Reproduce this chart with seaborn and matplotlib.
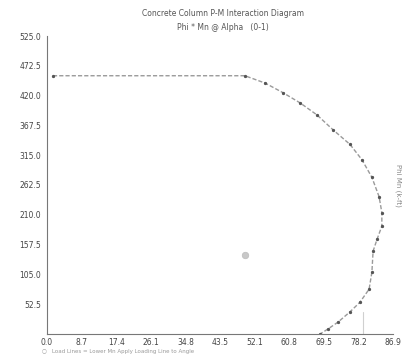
import matplotlib
matplotlib.use("Agg")
import matplotlib.pyplot as plt
import seaborn as sns
import pandas as pd

# Interaction curve (Phi Mn in k-ft, Phi Pn in kips)
moment = [1.5, 49.7, 54.8, 59.3, 63.6, 67.8, 71.8, 76.1, 79.1, 81.6, 83.4, 84.1,
          84.1, 82.9, 81.9, 81.6, 80.9, 78.6, 76.1, 73.1, 70.6, 68.6]
axial = [455, 455, 442, 425, 407, 386, 360, 334, 307, 276, 242, 214,
         190, 167, 146, 109, 79, 56, 39, 21, 9, 0]

# Load point
load_m = [49.7]
load_p = [140]

# Short load line near the base
line_m = [79.4, 79.4]
line_p = [0, 38]

xticks = [0.0, 8.7, 17.4, 26.1, 34.8, 43.5, 52.1, 60.8, 69.5, 78.2, 86.9]
yticks = [52.5, 105.0, 157.5, 210.0, 262.5, 315.0, 367.5, 420.0, 472.5, 525.0]

sns.set_style("white")
fig = plt.figure(figsize=(4.12, 3.58), dpi=100)
ax = fig.add_axes([47/412, 1-334/358, (393-47)/412, (334-36)/358])

df = pd.DataFrame({"M": moment, "P": axial})
sns.lineplot(data=df, x="M", y="P", sort=False, estimator=None, ax=ax,
             color="#9a9a9a", lw=1.0, marker="o", markersize=1.6,
             markerfacecolor="#555555", markeredgecolor="#555555")
ax.lines[-1].set_dashes([3, 1.5])
sns.lineplot(x=line_m, y=line_p, sort=False, estimator=None, ax=ax,
             color="#d0d0d0", lw=0.8)
sns.scatterplot(x=load_m, y=load_p, ax=ax, color="#c8c8c8", s=22,
                edgecolor="#bbbbbb", linewidth=0.5, zorder=5)

ax.set_xlim(0, 86.9)
ax.set_ylim(0, 525)
ax.set_xticks(xticks)
ax.set_xticklabels([f"{v:.1f}" for v in xticks])
ax.set_yticks(yticks)
ax.set_yticklabels([f"{v:.1f}" for v in yticks])
ax.set_xlabel("")
ax.set_ylabel("")
for s in ["top", "right"]:
    ax.spines[s].set_visible(False)
for s in ["left", "bottom"]:
    ax.spines[s].set_color("#777777")
    ax.spines[s].set_linewidth(0.8)
ax.tick_params(axis="both", labelsize=5.5, colors="#444444", length=2.5,
               width=0.6, direction="out")
ax.tick_params(axis="x", pad=0.5)
ax.tick_params(axis="y", pad=1.5)

fig.text(223/412, 1-13/358, "Concrete Column P-M Interaction Diagram",
         ha="center", va="center", fontsize=5.5, color="#555555")
fig.text(223/412, 1-27/358, "Phi * Mn @ Alpha   (0-1)",
         ha="center", va="center", fontsize=5.5, color="#555555")
fig.text(398/412, 1-185/358, "Phi Mn (k-ft)", rotation=270,
         ha="center", va="center", fontsize=5, color="#888888")
fig.text(42/412, 1-352/358, "\u25cb   Load Lines = Lower Mn Apply Loading Line to Angle",
         ha="left", va="center", fontsize=4, color="#999999")

fig.savefig("out.png", dpi=100)
